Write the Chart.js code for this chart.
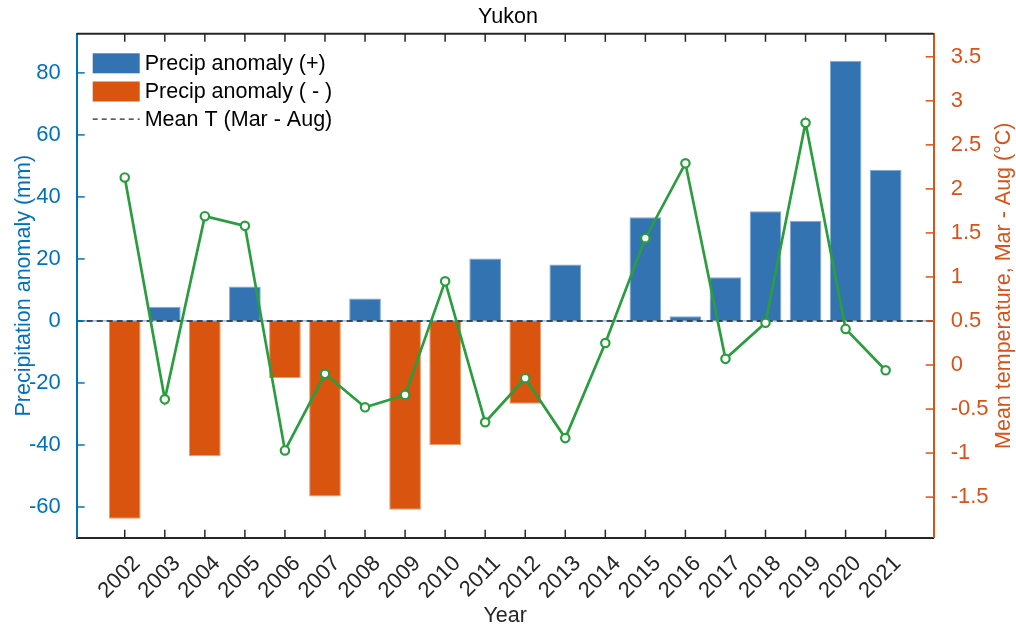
<!DOCTYPE html>
<html><head><meta charset="utf-8">
<script src="https://cdn.jsdelivr.net/npm/chart.js@4/dist/chart.umd.min.js"></script>
<style>html,body{margin:0;padding:0;background:#fff}#wrap{width:1016px;height:630px}</style>
</head><body><div id="wrap"><canvas id="c" width="1016" height="630"></canvas></div>
<script>
const YEARS = [2002,2003,2004,2005,2006,2007,2008,2009,2010,2011,2012,2013,2014,2015,2016,2017,2018,2019,2020,2021];
const PRECIP = [-63.8,4.6,-43.6,11.1,-18.4,-56.6,7.2,-60.9,-40.0,20.1,-26.7,18.2,0,33.4,1.5,14.1,35.4,32.3,83.9,48.7];
const TEMP = [2.13,-0.39,1.69,1.58,-0.97,-0.10,-0.48,-0.34,0.95,-0.65,-0.15,-0.83,0.25,1.44,2.29,0.07,0.48,2.75,0.41,-0.06];
const PRECIP_TICKS = [-60,-40,-20,0,20,40,60,80];
const TEMP_TICKS = [-1.5,-1,-0.5,0,0.5,1,1.5,2,2.5,3,3.5];
const YEAR_LIMITS = [2000.8, 2022.2];
const PRECIP_LIMITS = [-69.9, 92.6];
const TEMP_LIMITS = [-1.961, 3.761];
const MEAN_LINE_VALUE = 0;
const LABELS = ['Precip anomaly (+)', 'Precip anomaly ( - )', 'Mean T (Mar - Aug)'];
const TITLE = 'Yukon';
const Y_TITLE = 'Precipitation anomaly (mm)';
const Y2_TITLE = 'Mean temperature, Mar - Aug (°C)';

const BLUE_AX = '#0072BD', ORANGE_AX = '#D95319', DARK = '#262626';
const BAR_POS = '#3373B1', BAR_NEG = '#D9540F', GREEN = '#2A9E3E';
const FAMILY = '"Liberation Sans", Arial, Helvetica, sans-serif';
const FONT = {family: FAMILY, size: 21.5};
const TICK_FONT = {family: FAMILY, size: 22};

const posData = YEARS.map((yr, i) => ({x: yr, y: PRECIP[i]})).filter(p => p.y > 0);
const negData = YEARS.map((yr, i) => ({x: yr, y: PRECIP[i]})).filter(p => p.y < 0);
const tempData = YEARS.map((yr, i) => ({x: yr, y: TEMP[i]}));
const meanData = YEAR_LIMITS.map(v => ({x: v, y: MEAN_LINE_VALUE}));

const decor = {
  id: 'decor',
  afterDraw(chart) {
    const {ctx, chartArea: a, scales} = chart;
    const L = 8;
    const line = (x1, y1, x2, y2) => { ctx.beginPath(); ctx.moveTo(x1, y1); ctx.lineTo(x2, y2); ctx.stroke(); };
    ctx.save();
    ctx.strokeStyle = DARK; ctx.lineWidth = 2;
    line(a.left, a.top, a.right, a.top);
    ctx.lineWidth = 1.5;
    scales.x.ticks.forEach(t => {
      const px = scales.x.getPixelForValue(t.value);
      line(px, a.bottom, px, a.bottom - L);
      line(px, a.top, px, a.top + L);
    });
    ctx.strokeStyle = BLUE_AX;
    scales.y.ticks.forEach(t => { const py = scales.y.getPixelForValue(t.value); line(a.left, py, a.left + L, py); });
    ctx.strokeStyle = ORANGE_AX;
    scales.y2.ticks.forEach(t => { const py = scales.y2.getPixelForValue(t.value); line(a.right, py, a.right - L, py); });

    // right axis title (reads bottom-to-top like the left one)
    ctx.save();
    ctx.translate(a.right + 70, (a.top + a.bottom) / 2);
    ctx.rotate(-Math.PI / 2);
    ctx.font = FONT.size + 'px ' + FAMILY;
    ctx.fillStyle = ORANGE_AX; ctx.textAlign = 'center'; ctx.textBaseline = 'middle';
    ctx.fillText(Y2_TITLE, 0, 0);
    ctx.restore();

    // legend
    const lx = a.left + 16, pw = 47, ph = 20, tx = a.left + 68;
    const rows = [a.top + 29.5, a.top + 57.7, a.top + 85.3];
    ctx.font = FONT.size + 'px ' + FAMILY;
    ctx.textBaseline = 'middle'; ctx.textAlign = 'left';
    const ds = chart.data.datasets;
    ctx.fillStyle = ds[0].backgroundColor; ctx.fillRect(lx, rows[0] - ph / 2, pw, ph);
    ctx.fillStyle = ds[1].backgroundColor; ctx.fillRect(lx, rows[1] - ph / 2, pw, ph);
    ctx.strokeStyle = DARK; ctx.lineWidth = 1.2; ctx.setLineDash([5, 4]);
    line(lx, rows[2], lx + pw, rows[2]);
    ctx.setLineDash([]);
    ctx.fillStyle = '#000';
    [ds[0].label, ds[1].label, ds[2].label].forEach((t, i) => ctx.fillText(t, tx, rows[i] + 1));
    ctx.restore();
  }
};

new Chart(document.getElementById('c'), {
  data: {
    datasets: [
      {type: 'bar', label: LABELS[0], data: posData, backgroundColor: BAR_POS, borderColor: '#7FA9D3', borderWidth: 1, grouped: false, yAxisID: 'y', order: 3, categoryPercentage: 0.8, barPercentage: 0.99},
      {type: 'bar', label: LABELS[1], data: negData, backgroundColor: BAR_NEG, borderColor: '#EB9A6E', borderWidth: 1, grouped: false, yAxisID: 'y', order: 3, categoryPercentage: 0.8, barPercentage: 0.99},
      {type: 'line', label: LABELS[2], data: meanData, borderColor: DARK, borderWidth: 1.6, borderDash: [6, 4], pointRadius: 0, yAxisID: 'y', order: 1},
      {type: 'line', label: 'baseline', data: meanData, borderColor: '#7DB3E0', borderWidth: 1.2, pointRadius: 0, yAxisID: 'y', order: 2},
      {type: 'line', label: 'Mean T', data: tempData, borderColor: GREEN, borderWidth: 2.7, pointRadius: 4.2, pointBorderWidth: 2.2, pointBackgroundColor: '#fff', pointBorderColor: GREEN, tension: 0, yAxisID: 'y2', order: 0}
    ]
  },
  options: {
    responsive: false, animation: false, devicePixelRatio: 1,
    layout: {padding: 0},
    plugins: {
      legend: {display: false}, tooltip: {enabled: false},
      title: {display: true, text: TITLE, color: '#000', font: {...FONT, weight: 'normal'}, padding: {top: 4, bottom: 4}}
    },
    scales: {
      x: {
        type: 'linear', position: 'bottom', min: YEAR_LIMITS[0], max: YEAR_LIMITS[1], offset: false,
        afterBuildTicks: s => { s.ticks = YEARS.map(v => ({value: v})); },
        afterFit: s => { s.height = 92.3; },
        grid: {display: false, offset: false},
        border: {display: true, color: DARK, width: 2},
        ticks: {autoSkip: false, minRotation: 45, maxRotation: 45, labelOffset: 12, padding: 5, color: DARK, font: TICK_FONT, callback: v => String(v)},
        title: {display: true, text: 'Year', color: DARK, font: FONT, padding: {top: 0, bottom: 1}}
      },
      y: {
        type: 'linear', position: 'left', min: PRECIP_LIMITS[0], max: PRECIP_LIMITS[1],
        afterBuildTicks: s => { s.ticks = PRECIP_TICKS.map(v => ({value: v})); },
        afterFit: s => { s.width = 76.7; },
        grid: {display: false},
        border: {display: true, color: BLUE_AX, width: 2},
        ticks: {color: BLUE_AX, font: TICK_FONT, padding: 8, callback: v => String(v)},
        title: {display: true, text: Y_TITLE, color: BLUE_AX, font: FONT, padding: {top: 11, bottom: 0}}
      },
      y2: {
        type: 'linear', position: 'right', min: TEMP_LIMITS[0], max: TEMP_LIMITS[1],
        afterBuildTicks: s => { s.ticks = TEMP_TICKS.map(v => ({value: v})); },
        afterFit: s => { s.width = 82.3; },
        grid: {display: false},
        border: {display: true, color: ORANGE_AX, width: 2},
        ticks: {color: ORANGE_AX, font: TICK_FONT, padding: 9, callback: v => String(v)},
        title: {display: false}
      }
    }
  },
  plugins: [decor]
});
</script></body></html>
